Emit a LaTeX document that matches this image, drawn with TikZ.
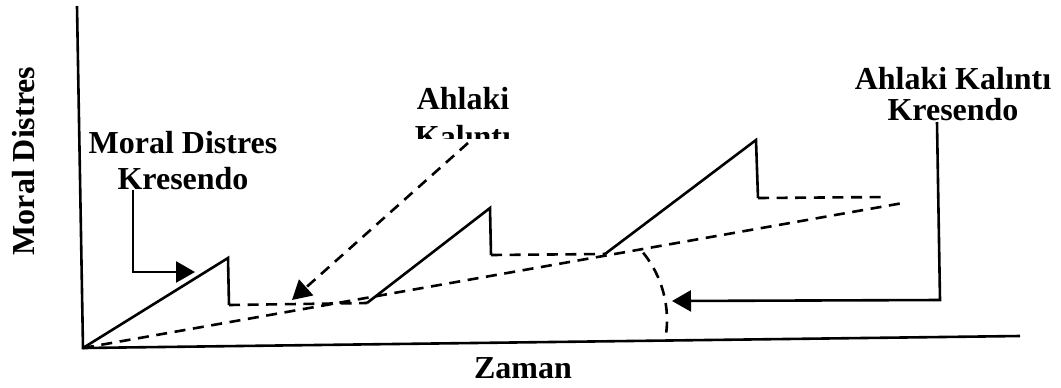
\documentclass[tikz,border=0pt]{standalone}
\usepackage{fontspec}
\setmainfont{Liberation Serif}
\usetikzlibrary{arrows.meta}
\begin{document}
\begin{tikzpicture}[x=0.5pt,y=-0.5pt,
  lbl/.style={font=\bfseries\fontsize{16}{18}\selectfont, align=center, inner sep=0pt},
  solidln/.style={line width=1.3pt, line join=miter},
  dashln/.style={line width=1.3pt, dash pattern=on 5.5pt off 3.8pt},
  tip/.style={-{Triangle[length=9.5pt,width=10.5pt]}}]
\useasboundingbox (0,0) rectangle (1061,387);
% axes
\coordinate (top) at (77,6);
\coordinate (O) at (83,348);
\coordinate (xend) at (1020,336);
\draw[solidln] (top) -- (O) -- (xend);
% sawtooth
\coordinate (p1) at (228,258);
\coordinate (b1) at (229,305);
\coordinate (s2) at (367,303);
\coordinate (p2) at (490,208);
\coordinate (b2) at (491,255);
\coordinate (s3) at (605,254);
\coordinate (p3) at (756,140);
\coordinate (b3) at (758,198);
\coordinate (e3) at (888,197);
\coordinate (tend) at (903,203);
\draw[solidln] (O) -- (p1) -- (b1);
\draw[dashln] (b1) -- (s2);
\draw[solidln] (s2) -- (p2) -- (b2);
\draw[dashln] (b2) -- (s3);
\draw[solidln] (s3) -- (p3) -- (b3);
\draw[dashln] (b3) -- (e3);
\draw[dashln] (O) -- (tend);
% arc
\coordinate (arcc) at (560,320);
\draw[dashln] (arcc) ++(-39:107) arc[start angle=-39,end angle=10,radius=107];
% labels
\node[lbl, rotate=90] (ylab) at (23.5,161) {Moral Distres};
\node[lbl, anchor=north] (mdk) at (183,131) {Moral Distres\\Kresendo};
\begin{scope}
  \clip (380,60) rectangle (560,138);
  \node[lbl, anchor=north, font=\bfseries\fontsize{16}{19}\selectfont] (ak) at (463,87) {Ahlaki\\Kalıntı};
\end{scope}
\node[lbl, anchor=north, font=\bfseries\fontsize{16}{15.5}\selectfont] (akk) at (953,67) {Ahlaki Kalıntı\\Kresendo};
\node[lbl, anchor=north] (zaman) at (523,357) {Zaman};
% connectors
\coordinate (a1s) at (133,190);
\coordinate (a1c) at (133,272);
\coordinate (a1t) at (195,272);
\draw[solidln, tip] (a1s) -- (a1c) -- (a1t);
\coordinate (a2s) at (468,143);
\coordinate (a2t) at (292,300);
\draw[dashln, tip] (a2s) -- (a2t);
\coordinate (a3s) at (937,122);
\coordinate (a3c) at (940,300);
\coordinate (a3t) at (672,301);
\draw[solidln, tip] (a3s) -- (a3c) -- (a3t);
\end{tikzpicture}
\end{document}
